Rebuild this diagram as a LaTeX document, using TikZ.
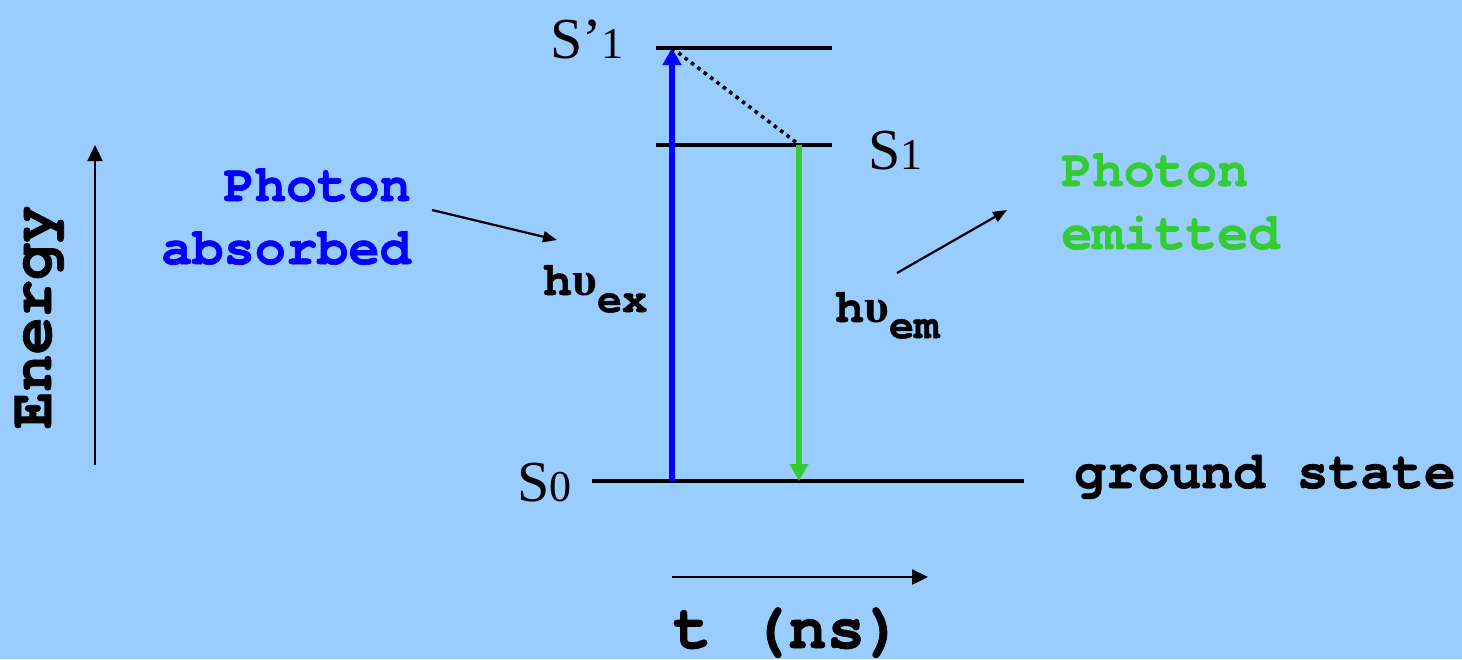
\documentclass[tikz,border=0pt]{standalone}
\usepackage{fontspec}
\setmainfont{Liberation Serif}
\setmonofont{texgyrecursor}[Extension=.otf,UprightFont=*-regular,BoldFont=*-bold,BoldFeatures={FakeBold=1.2}]
\newfontfamily\grk{Liberation Serif}
\usetikzlibrary{arrows.meta}
\definecolor{bg}{HTML}{99CCFF}
\definecolor{exblue}{HTML}{0000FF}
\definecolor{emgreen}{HTML}{33CC33}
\begin{document}
\begin{tikzpicture}[x=1pt,y=-1pt,
  level/.style={line width=3.2pt,black},
  thinarrow/.style={line width=2.4pt,black,-{Triangle[length=16pt,width=15pt]}},
  ptrarrow/.style={line width=2.2pt,black,-{Triangle[length=14pt,width=11pt]}},
  bigarrow/.style={line width=5.5pt,-{Triangle[length=17pt,width=18pt]}},
  mono/.style={inner sep=0pt,font=\ttfamily\bfseries\fontsize{52}{63}\selectfont},
  serif/.style={inner sep=0pt,font=\fontsize{58}{60}\selectfont}
]
\fill[bg] (0,0) rectangle (1462,659);
\useasboundingbox (0,0) rectangle (1462,659);

% coordinates
\coordinate (s1pL) at (656,48);
\coordinate (s1pR) at (832,48);
\coordinate (s1L) at (656,145);
\coordinate (s1R) at (832,145);
\coordinate (s0L) at (592,481);
\coordinate (s0R) at (1024,481);
\coordinate (exBot) at (672,481);
\coordinate (exTop) at (672,48);
\coordinate (emTop) at (799,145);
\coordinate (emBot) at (799,481);
\coordinate (dotEnd) at (797,143);
\coordinate (eBot) at (95,465);
\coordinate (eTop) at (95,145);
\coordinate (tL) at (672,577);
\coordinate (tR) at (928,577);
\coordinate (paA) at (432,210);
\coordinate (paB) at (557,240);
\coordinate (peA) at (897,273);
\coordinate (peB) at (1007,210);

% levels
\draw[level] (s1pL) -- (s1pR);
\draw[level] (s1L) -- (s1R);
\draw[level] (s0L) -- (s0R);

% transitions
\draw[bigarrow,exblue] (exBot) -- (exTop);
\draw[bigarrow,emgreen] (emTop) -- (emBot);
\draw[line width=3.6pt,dash pattern=on 3.6pt off 4.4pt] (exTop) -- (dotEnd);

% axes
\draw[thinarrow] (eBot) -- (eTop);
\draw[thinarrow] (tL) -- (tR);

% pointers
\draw[ptrarrow] (paA) -- (paB);
\draw[ptrarrow] (peA) -- (peB);

% labels
\node[serif,anchor=base west] (lS1p) at (550,58) {S’{\fontsize{44}{46}\selectfont 1}};
\node[serif,anchor=base west] (lS1) at (868,169) {S{\fontsize{44}{46}\selectfont 1}};
\node[serif,anchor=base west] (lS0) at (517,501) {S{\fontsize{44}{46}\selectfont 0}};

\node[mono,anchor=base east,text=exblue,align=right] (pabs) at (411,264) {Photon\\absorbed};
\node[mono,anchor=base west,text=emgreen,align=left] (pemi) at (1061,249) {Photon\\emitted};
\node[mono,anchor=base west,font=\ttfamily\bfseries\fontsize{53}{63}\selectfont] (gs) at (1074,488) {ground state};

\node[mono,anchor=base west,font=\ttfamily\bfseries\fontsize{48}{50}\selectfont] (hex) at (543,295)
  {h{\grk\bfseries υ}\raisebox{-17pt}{\fontsize{42}{44}\selectfont ex}};
\node[mono,anchor=base west,font=\ttfamily\bfseries\fontsize{48}{50}\selectfont] (hem) at (835,322)
  {h{\grk\bfseries υ}\raisebox{-16pt}{\fontsize{42}{44}\selectfont em}};

\node[mono,anchor=base west,font=\ttfamily\bfseries\fontsize{64}{66}\selectfont] (tns) at (673,648) {t (ns)};
\node[mono,anchor=base west,rotate=90,font=\ttfamily\bfseries\fontsize{62}{64}\selectfont] (en) at (51,429) {Energy};
\end{tikzpicture}
\end{document}
